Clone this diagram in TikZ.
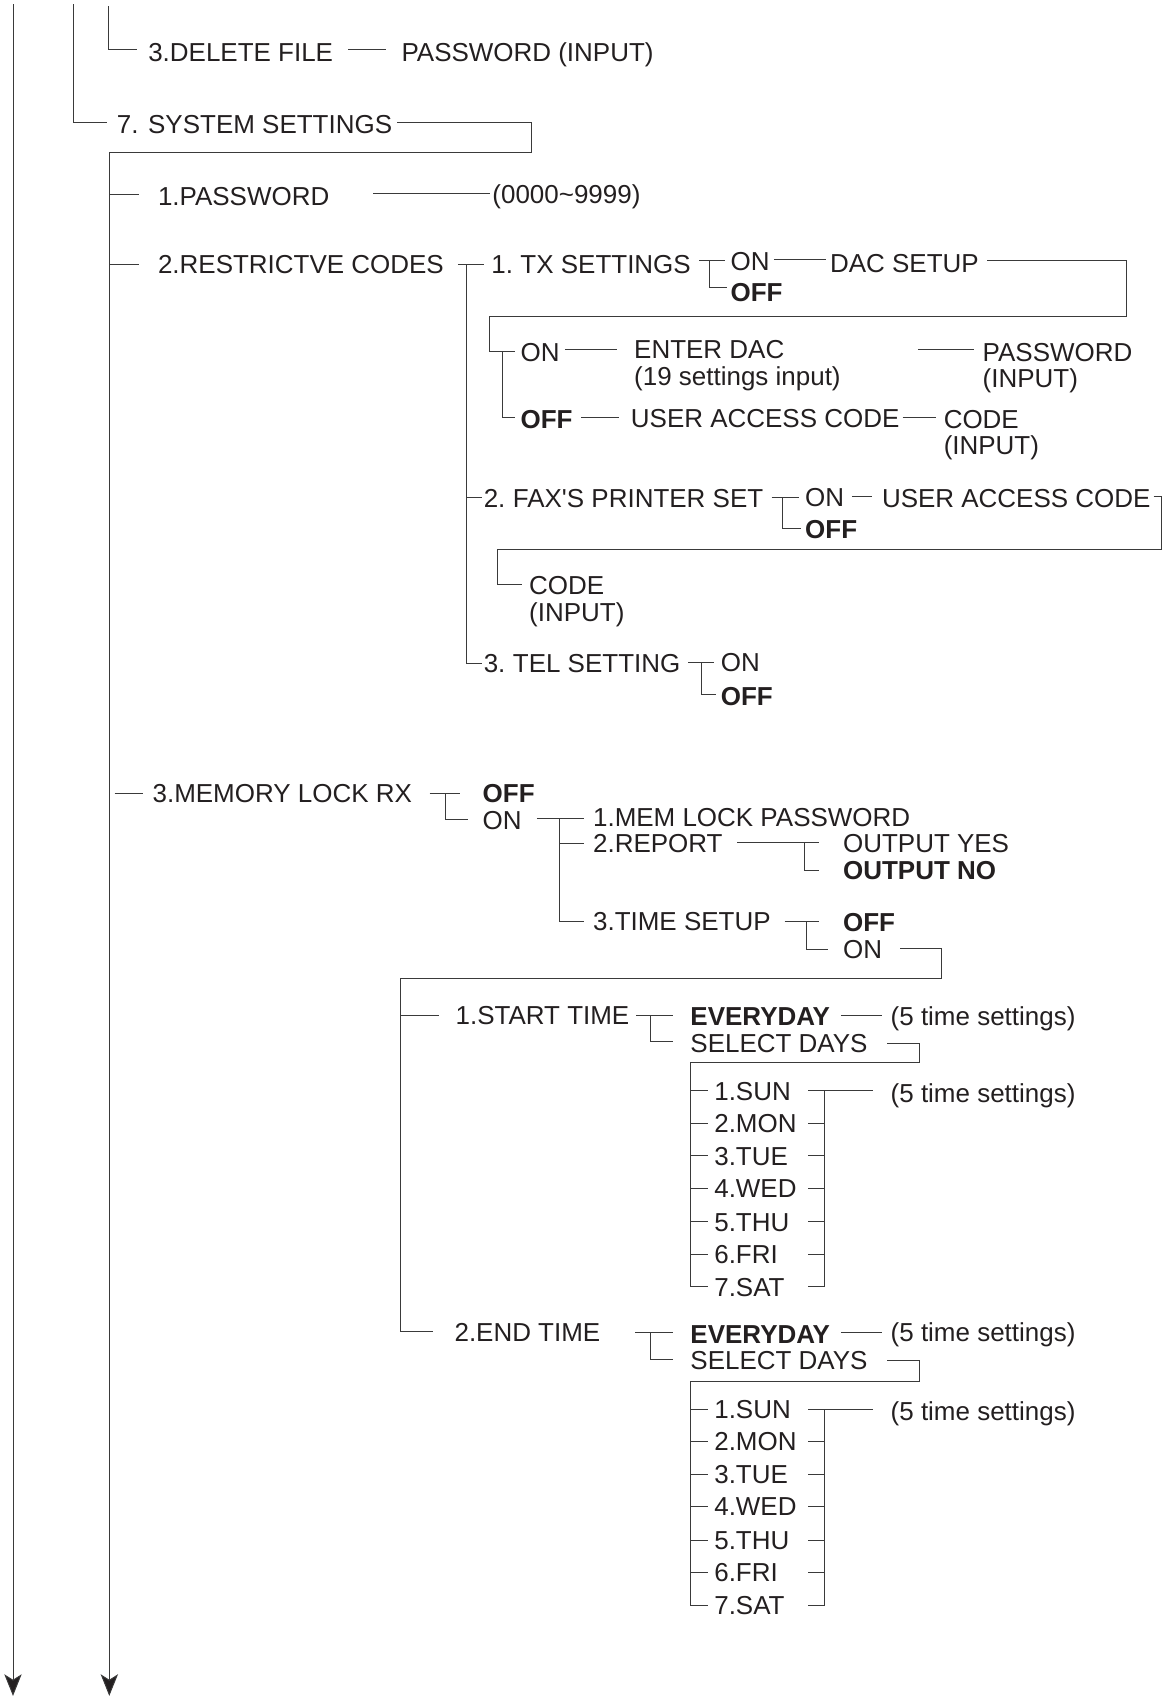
\documentclass[tikz,border=0pt]{standalone}
\usepackage{fontspec}
\setmainfont{Liberation Sans}
\usetikzlibrary{arrows.meta}
\definecolor{ink}{HTML}{231F20}
\definecolor{wire}{HTML}{3A3A3A}
\tikzset{
  lbl/.style={anchor=west, inner sep=0pt, outer sep=0pt, text height=17.2pt, text depth=0pt, text=ink, font=\fontsize{24}{25}\selectfont},
  blbl/.style={lbl, font=\fontsize{24}{25}\selectfont\bfseries},
  wirel/.style={draw=wire, line width=0.9pt},
  arr/.style={wirel, -{Stealth[length=20pt,width=16pt,inset=5pt,fill=ink]}}
}
\begin{document}
\begin{tikzpicture}[x=1pt,y=-1pt]
\useasboundingbox (0,0) rectangle (1078,1568);

% ---- top part
\node[lbl] (del) at (137,48) {3.DELETE FILE};
\node[lbl] (pwin) at (371,48) {PASSWORD (INPUT)};
\node[lbl] (sys) at (108,115) {7. SYSTEM SETTINGS};
\node[lbl] (pw) at (146,181) {1.PASSWORD};
\node[lbl] (range) at (455,179) {(0000\textasciitilde 9999)};

\draw[arr] (12,4) -- (12,1567);
\draw[wirel] (68,4) -- (68,113) -- (99,113);
\draw[wirel] (100,6) -- (100,46) -- (127,46);
\draw[wirel] (322,46) -- (357,46);
\draw[wirel] (367,113) -- (491,113) -- (491,141) -- (101,141);
\draw[arr] (101,141) -- (101,1567);
\draw[wirel] (101,180) -- (128,180);
\draw[wirel] (345,179) -- (453,179);

% ---- restrictive codes
\node[lbl] (rc) at (146,244) {2.RESTRICTVE CODES};
\node[lbl] (tx) at (454,244) {1.\kern-2pt{} TX SETTINGS};
\node[lbl] (txon) at (675,241) {ON};
\node[blbl] (txoff) at (675,270) {OFF};
\node[lbl] (dac) at (767,243) {DAC SETUP};
\node[lbl] (on2) at (481,325) {ON};
\node[lbl] (enter) at (586,323) {ENTER DAC};
\node[lbl] (n19) at (586,348) {(19 settings input)};
\node[lbl] (pass2) at (908,325) {PASSWORD};
\node[lbl] (inp2) at (908,349) {(INPUT)};
\node[blbl] (off2) at (481,387) {OFF};
\node[lbl] (uac) at (583,386) {USER ACCESS CODE};
\node[lbl] (code) at (872,387) {CODE};
\node[lbl] (inp3) at (872,411) {(INPUT)};

\draw[wirel] (101,244) -- (128,244);
\draw[wirel] (423,244) -- (447,244);
\draw[wirel] (431,244) -- (431,613) -- (445,613);
\draw[wirel] (431,460) -- (445,460);
\draw[wirel] (646,241) -- (670,241);
\draw[wirel] (656,241) -- (656,266) -- (672,266);
\draw[wirel] (715,240) -- (763,240);
\draw[wirel] (912,241) -- (1041,241) -- (1041,292) -- (452,292) -- (452,325) -- (476,325);
\draw[wirel] (464,325) -- (464,386) -- (476,386);
\draw[wirel] (522,323) -- (570,323);
\draw[wirel] (848,323) -- (900,323);
\draw[wirel] (537,386) -- (572,386);
\draw[wirel] (834,386) -- (865,386);

% ---- fax's printer set
\node[lbl] (fax) at (447,460) {2.\kern-2pt{} FAX\textquotesingle S PRINTER SET};
\node[lbl] (fon) at (744,459) {ON};
\node[blbl] (foff) at (744,489) {OFF};
\node[lbl] (uac2) at (815,460) {USER ACCESS CODE};
\node[lbl] (code2) at (489,541) {CODE};
\node[lbl] (inp4) at (489,566) {(INPUT)};
\draw[wirel] (713,460) -- (738,460);
\draw[wirel] (723,460) -- (723,488) -- (740,488);
\draw[wirel] (787,459) -- (806,459);
\draw[wirel] (1066,459) -- (1073,459) -- (1073,508) -- (460,508) -- (460,540) -- (482,540);

% ---- tel setting
\node[lbl] (tel) at (447,613) {3.\kern-2pt{} TEL SETTING};
\node[lbl] (ton) at (666,612) {ON};
\node[blbl] (toff) at (666,643) {OFF};
\draw[wirel] (636,612) -- (660,612);
\draw[wirel] (648,612) -- (648,642) -- (662,642);

% ---- memory lock rx
\node[lbl] (mem) at (141,733) {3.MEMORY LOCK RX};
\node[blbl] (moff) at (446,733) {OFF};
\node[lbl] (mon) at (446,758) {ON};
\node[lbl] (mlp) at (548,755) {1.MEM LOCK PASSWORD};
\node[lbl] (rep) at (548,779) {2.REPORT};
\node[lbl] (yes) at (779,779) {OUTPUT YES};
\node[blbl] (no) at (779,804) {OUTPUT NO};
\node[lbl] (tsu) at (548,851) {3.TIME SETUP};
\node[blbl] (tsoff) at (779,852) {OFF};
\node[lbl] (tson) at (779,877) {ON};

\draw[wirel] (106,733) -- (132,733);
\draw[wirel] (397,733) -- (425,733);
\draw[wirel] (412,733) -- (412,757) -- (432,757);
\draw[wirel] (496,756) -- (540,756);
\draw[wirel] (517,756) -- (517,851) -- (540,851);
\draw[wirel] (517,779) -- (540,779);
\draw[wirel] (681,778) -- (757,778);
\draw[wirel] (743,778) -- (743,804) -- (757,804);
\draw[wirel] (725,851) -- (757,851);
\draw[wirel] (745,851) -- (745,877) -- (765,877);
\draw[wirel] (832,876) -- (870,876) -- (870,904) -- (370,904) -- (370,1230) -- (400,1230);

% ---- start time
\node[lbl] (st) at (421,938) {1.START TIME};
\node[blbl] (ev1) at (638,939) {EVERYDAY};
\node[lbl] (fa) at (823,939) {(5 time settings)};
\node[lbl] (sel1) at (638,964) {SELECT DAYS};
\node[lbl] (fb) at (823,1010) {(5 time settings)};
\node[lbl] (sa1) at (660,1008) {1.SUN};
\node[lbl] (sa2) at (660,1038) {2.MON};
\node[lbl] (sa3) at (660,1068) {3.TUE};
\node[lbl] (sa4) at (660,1098) {4.WED};
\node[lbl] (sa5) at (660,1129) {5.THU};
\node[lbl] (sa6) at (660,1159) {6.FRI};
\node[lbl] (sa7) at (660,1189) {7.SAT};

\draw[wirel] (370,938) -- (406,938);
\draw[wirel] (588,938) -- (622,938);
\draw[wirel] (601,938) -- (601,962) -- (622,962);
\draw[wirel] (777,938) -- (815,938);
\draw[wirel] (820,964) -- (850,964) -- (850,982) -- (638,982) -- (638,1189) -- (654,1189);
\foreach \y in {1008,1038,1068,1098,1129,1159} \draw[wirel] (638,\y) -- (654,\y);
\draw[wirel] (747,1008) -- (807,1008);
\draw[wirel] (762,1008) -- (762,1189) -- (747,1189);
\foreach \y in {1038,1068,1098,1129,1159} \draw[wirel] (747,\y) -- (762,\y);

% ---- end time
\node[lbl] (et) at (420,1231) {2.END TIME};
\node[blbl] (ev2) at (638,1233) {EVERYDAY};
\node[lbl] (fc) at (823,1231) {(5 time settings)};
\node[lbl] (sel2) at (638,1257) {SELECT DAYS};
\node[lbl] (fd) at (823,1304) {(5 time settings)};
\node[lbl] (sb1) at (660,1302) {1.SUN};
\node[lbl] (sb2) at (660,1332) {2.MON};
\node[lbl] (sb3) at (660,1362) {3.TUE};
\node[lbl] (sb4) at (660,1392) {4.WED};
\node[lbl] (sb5) at (660,1423) {5.THU};
\node[lbl] (sb6) at (660,1453) {6.FRI};
\node[lbl] (sb7) at (660,1483) {7.SAT};

\draw[wirel] (587,1231) -- (622,1231);
\draw[wirel] (601,1231) -- (601,1256) -- (622,1256);
\draw[wirel] (777,1231) -- (815,1231);
\draw[wirel] (820,1257) -- (850,1257) -- (850,1276) -- (638,1276) -- (638,1483) -- (654,1483);
\foreach \y in {1302,1332,1362,1392,1423,1453} \draw[wirel] (638,\y) -- (654,\y);
\draw[wirel] (747,1302) -- (807,1302);
\draw[wirel] (762,1302) -- (762,1483) -- (747,1483);
\foreach \y in {1332,1362,1392,1423,1453} \draw[wirel] (747,\y) -- (762,\y);
\end{tikzpicture}
\end{document}
